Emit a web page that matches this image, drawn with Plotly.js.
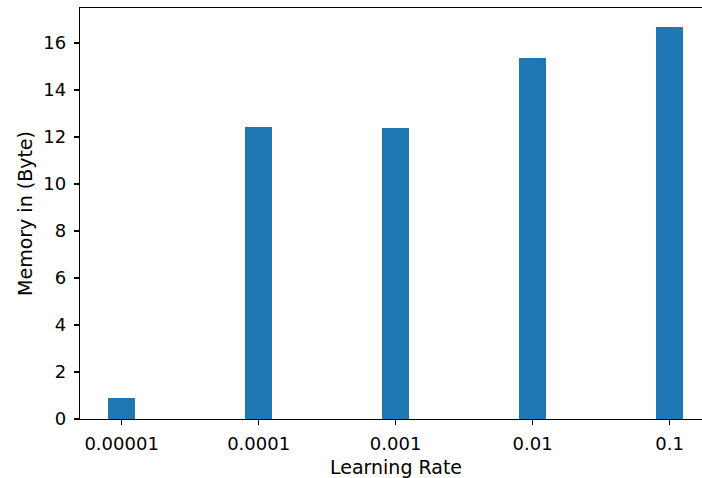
<!DOCTYPE html>
<html>
<head>
<meta charset="utf-8">
<script src="https://cdn.plot.ly/plotly-3.0.1.min.js"></script>
<style>html,body{margin:0;padding:0;background:#fff;overflow:hidden;}#wrap{width:702px;height:478px;overflow:hidden;}#chart{width:712px;height:478px;}</style>
</head>
<body>
<div id="wrap"><div id="chart"></div></div>
<script>
const categories = ["0.00001", "0.0001", "0.001", "0.01", "0.1"];
const memoryValues = [0.91, 12.43, 12.40, 15.36, 16.68];
const yTickVals = [0, 2, 4, 6, 8, 10, 12, 14, 16];
const yTickText = ["0", "2", "4", "6", "8", "10", "12", "14", "16"];

const positions = categories.map((c, i) => i);

const trace = {
  type: "bar",
  x: positions,
  y: memoryValues,
  width: 0.2,
  marker: {color: "#1f77b4", line: {width: 0}},
  hoverinfo: "x+y"
};

const tickFont = {family: "DejaVu Sans, sans-serif", size: 18, color: "#000"};
const titleFont = {family: "DejaVu Sans, sans-serif", size: 19, color: "#000"};

const layout = {
  width: 712,
  height: 478,
  margin: {l: 80, r: 0, t: 8, b: 59},
  paper_bgcolor: "#fff",
  plot_bgcolor: "#fff",
  font: tickFont,
  showlegend: false,
  bargap: 0,
  xaxis: {
    range: [-0.304, 4.31],
    tickmode: "array",
    tickvals: positions,
    ticktext: categories,
    showgrid: false,
    zeroline: false,
    showline: true,
    mirror: true,
    linecolor: "#000",
    linewidth: 1.2,
    ticks: "outside",
    ticklen: 5,
    tickwidth: 1.2,
    tickcolor: "#000",
    ticklabelstandoff: 3,
    tickfont: tickFont,
    title: {text: "Learning Rate", font: titleFont, standoff: 8}
  },
  yaxis: {
    range: [0, 17.49],
    tickmode: "array",
    tickvals: yTickVals,
    ticktext: yTickText,
    showgrid: false,
    zeroline: false,
    showline: true,
    linecolor: "#000",
    linewidth: 1.2,
    ticks: "outside",
    ticklen: 5,
    tickwidth: 1.2,
    tickcolor: "#000",
    ticklabelstandoff: 4,
    tickfont: tickFont,
    title: {text: "Memory in (Byte)", font: titleFont, standoff: 5}
  }
};

Plotly.newPlot("chart", [trace], layout, {displayModeBar: false, staticPlot: true});
</script>
</body>
</html>
